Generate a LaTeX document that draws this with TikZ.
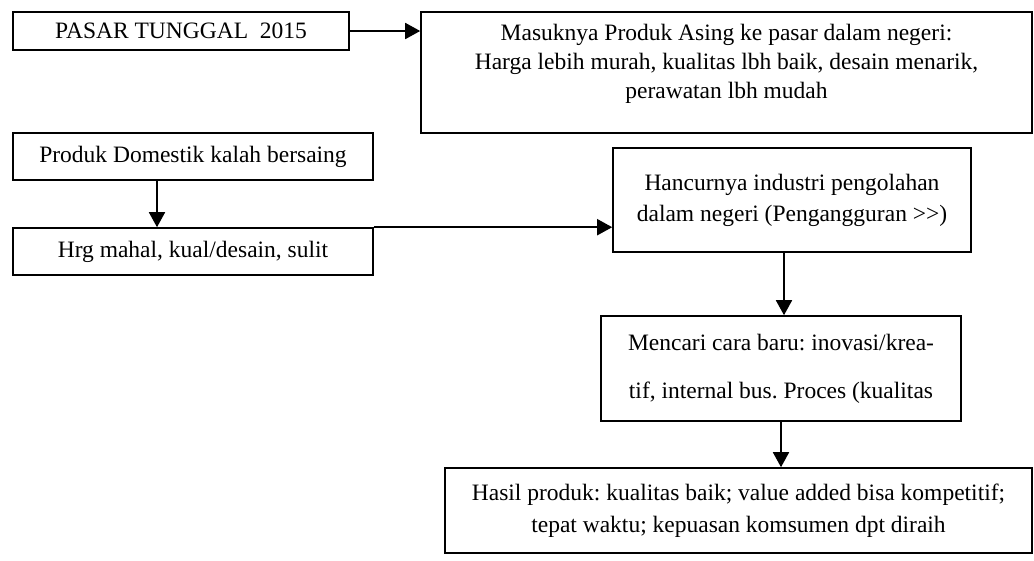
\documentclass[tikz,border=0pt]{standalone}
\usepackage{fontspec}
\setmainfont{Liberation Serif}
\usetikzlibrary{arrows.meta}
\frenchspacing
\begin{document}
\begin{tikzpicture}[x=1pt,y=-1pt,
  box/.style={draw=black, line width=1.6pt, inner sep=0pt, align=center,
              font=\fontsize{23.5}{29}\selectfont},
  conn/.style={line width=1.8pt, -{Triangle[length=15pt,width=16pt]}}]
\useasboundingbox (0,0) rectangle (1034,560);
\node[box, minimum width=336pt, minimum height=38pt] (pasar) at (181,31) {PASAR TUNGGAL\ \ 2015};
\node[box, minimum width=611pt, minimum height=121pt, text depth=22pt] (masuk) at (726.5,72.5)
  {Masuknya Produk Asing ke pasar dalam negeri:\\ Harga lebih murah, kualitas lbh baik, desain menarik,\\ perawatan lbh mudah};
\node[box, minimum width=360pt, minimum height=47pt] (prod) at (193,156.5) {Produk Domestik kalah bersaing};
\node[box, minimum width=360pt, minimum height=47pt] (hrg) at (193,251.5) {Hrg mahal, kual/desain, sulit};
\node[box, minimum width=358pt, minimum height=104pt, font=\fontsize{23.5}{31}\selectfont] (hancur) at (792,200)
  {Hancurnya industri pengolahan\\ dalam negeri (Pengangguran >\kern0pt>)};
\node[box, minimum width=360pt, minimum height=105pt, font=\fontsize{23.5}{48}\selectfont] (mencari) at (781,368.5)
  {Mencari cara baru: inovasi/krea-\\ tif, internal bus. Proces (kualitas};
\node[box, minimum width=587pt, minimum height=85pt, font=\fontsize{23.5}{32}\selectfont] (hasil) at (738.5,510.5)
  {Hasil produk: kualitas baik; value added bisa kompetitif;\\ tepat waktu; kepuasan komsumen dpt diraih};
\draw[conn] (pasar.east) -- (pasar.east -| masuk.west);
\draw[conn] ([xshift=-36pt]prod.south) -- ([xshift=-36pt]hrg.north);
\draw[conn] (hrg.north east) -- (hrg.north east -| hancur.west);
\draw[conn] ([xshift=-8pt]hancur.south) -- ([xshift=-8pt]hancur.south |- mencari.north);
\draw[conn] (mencari.south) -- (mencari.south |- hasil.north);
\end{tikzpicture}
\end{document}
